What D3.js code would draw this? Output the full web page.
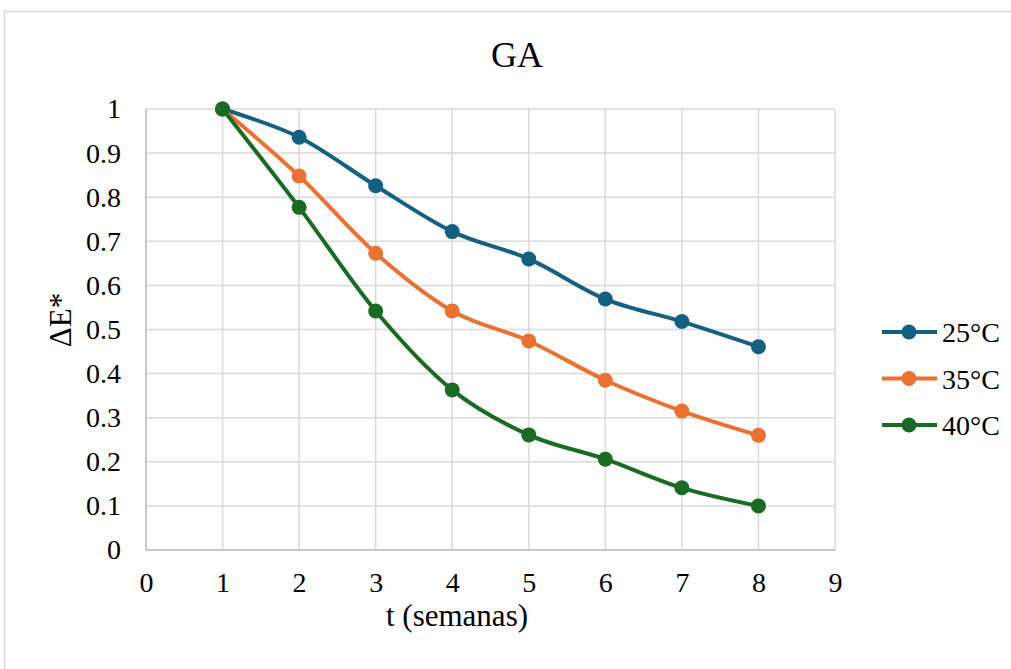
<!DOCTYPE html>
<html>
<head>
<meta charset="utf-8">
<script src="https://cdn.jsdelivr.net/npm/d3@7"></script>
<style>
  html, body { margin: 0; padding: 0; background: #fff; }
  svg { display: block; }
  text { font-family: "Liberation Serif", "Times New Roman", serif; fill: #000; }
</style>
</head>
<body>
<script>
// Weeks of storage and normalised colour change for each temperature
const weeks = [1, 2, 3, 4, 5, 6, 7, 8];
const series25 = [1, 0.936, 0.826, 0.722, 0.660, 0.569, 0.518, 0.461];
const series35 = [1, 0.848, 0.673, 0.542, 0.474, 0.385, 0.315, 0.260];
const series40 = [1, 0.777, 0.542, 0.363, 0.261, 0.206, 0.141, 0.100];
const seriesNames = ["25°C", "35°C", "40°C"];
const seriesColors = ["#156082", "#E97132", "#196B24"];
const xTicks = [0, 1, 2, 3, 4, 5, 6, 7, 8, 9];
const yTicks = [0, 0.1, 0.2, 0.3, 0.4, 0.5, 0.6, 0.7, 0.8, 0.9, 1];

const W = 1011, H = 669;
const plot = { left: 146, right: 835, top: 109, bottom: 550 };

const svg = d3.select("body").append("svg").attr("width", W).attr("height", H);

// chart frame
svg.append("rect")
  .attr("x", 4.5).attr("y", 11.5)
  .attr("width", W + 20).attr("height", H + 20)
  .attr("fill", "#fff").attr("stroke", "#D9D9D9").attr("stroke-width", 1.5);

const x = d3.scaleLinear().domain([0, 9]).range([plot.left, plot.right]);
const y = d3.scaleLinear().domain([0, 1]).range([plot.bottom, plot.top]);

// gridlines
const grid = svg.append("g");
grid.selectAll("line.h").data(yTicks).join("line")
  .attr("x1", plot.left).attr("x2", plot.right)
  .attr("y1", d => y(d)).attr("y2", d => y(d))
  .attr("stroke", "#D9D9D9").attr("stroke-width", 1.5);
grid.selectAll("line.v").data(xTicks).join("line")
  .attr("y1", plot.top).attr("y2", plot.bottom)
  .attr("x1", d => x(d)).attr("x2", d => x(d))
  .attr("stroke", "#D9D9D9").attr("stroke-width", 1.5);

// x axis line
svg.append("line")
  .attr("x1", plot.left).attr("x2", plot.right)
  .attr("y1", y(0)).attr("y2", y(0))
  .attr("stroke", "#BFBFBF").attr("stroke-width", 1.5);
// y axis line
svg.append("line")
  .attr("x1", x(0)).attr("x2", x(0))
  .attr("y1", plot.top).attr("y2", plot.bottom)
  .attr("stroke", "#BFBFBF").attr("stroke-width", 1.5);

// tick labels via d3 axes (domain and tick lines hidden)
const xAxis = svg.append("g")
  .attr("transform", `translate(0,${plot.bottom})`)
  .call(d3.axisBottom(x).tickValues(xTicks).tickFormat(d3.format("d")).tickSize(0).tickPadding(22));
xAxis.select(".domain").remove();
xAxis.selectAll("text").attr("font-size", 28).attr("font-family", "Liberation Serif").attr("fill", "#000");

const yAxis = svg.append("g")
  .attr("transform", `translate(${plot.left},0)`)
  .call(d3.axisLeft(y).tickValues(yTicks).tickFormat(d => d3.format("")(+d.toFixed(1))).tickSize(0).tickPadding(25));
yAxis.select(".domain").remove();
yAxis.selectAll("text").attr("font-size", 28).attr("font-family", "Liberation Serif").attr("fill", "#000");

// title and axis titles
svg.append("text").attr("x", 517).attr("y", 67)
  .attr("text-anchor", "middle").attr("font-size", 36).text("GA");
svg.append("text").attr("x", 457).attr("y", 626)
  .attr("text-anchor", "middle").attr("font-size", 31).text("t (semanas)");
svg.append("text")
  .attr("transform", `translate(71,320) rotate(-90)`)
  .attr("text-anchor", "middle").attr("font-size", 31).text("ΔE*");

// series
const allSeries = [series25, series35, series40].map((vals, i) => ({
  name: seriesNames[i],
  color: seriesColors[i],
  points: weeks.map((w, j) => ({ w, v: vals[j] }))
}));

const line = d3.line()
  .x(d => x(d.w)).y(d => y(d.v))
  .curve(d3.curveCatmullRom.alpha(0));

const g = svg.append("g");
allSeries.forEach(s => {
  g.append("path").datum(s.points)
    .attr("d", line).attr("fill", "none")
    .attr("stroke", s.color).attr("stroke-width", 4)
    .attr("stroke-linejoin", "round");
});
allSeries.forEach(s => {
  g.selectAll(null).data(s.points).join("circle")
    .attr("cx", d => x(d.w)).attr("cy", d => y(d.v))
    .attr("r", 7.5).attr("fill", s.color);
});

// legend
const legendY = [332, 378.5, 425];
const legend = svg.append("g");
allSeries.forEach((s, i) => {
  const ly = legendY[i];
  legend.append("line")
    .attr("x1", 882).attr("x2", 937).attr("y1", ly).attr("y2", ly)
    .attr("stroke", s.color).attr("stroke-width", 4);
  legend.append("circle").attr("cx", 909).attr("cy", ly).attr("r", 7.5).attr("fill", s.color);
  legend.append("text").attr("x", 942).attr("y", ly + 10)
    .attr("font-size", 28).text(s.name);
});
</script>
</body>
</html>
